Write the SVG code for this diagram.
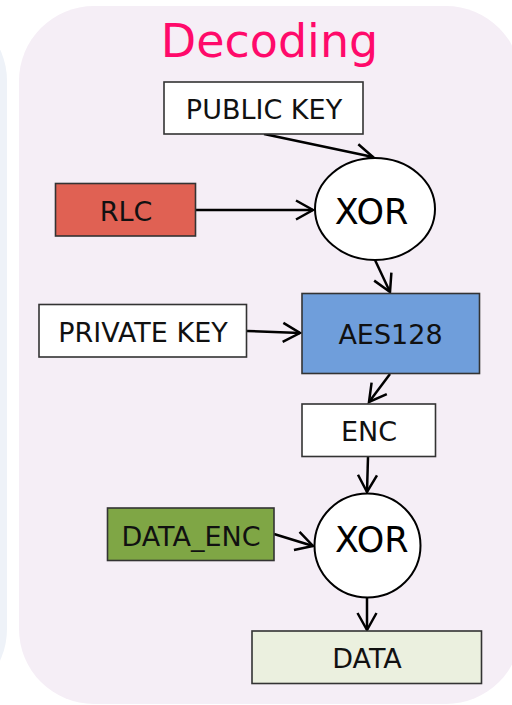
<svg xmlns="http://www.w3.org/2000/svg" width="512" height="705" viewBox="0 0 512 705">
<style>
.box{stroke:#333;stroke-width:1.6}
.lbl{font-family:"DejaVu Sans",Verdana,sans-serif;font-size:27px;fill:#111;text-anchor:middle}
.xor{font-family:"DejaVu Sans",Verdana,sans-serif;font-size:35px;fill:#000;text-anchor:middle}
.con{stroke:#000;stroke-width:2.5;fill:none}
</style>
<defs>
<marker id="arr" markerUnits="userSpaceOnUse" markerWidth="26" markerHeight="26" viewBox="-22 -13 26 26" refX="0" refY="0" orient="auto">
<path d="M-17,-9.5 L0,0 L-17,9.5" fill="none" stroke="#000" stroke-width="2.5" stroke-linejoin="miter"/>
</marker>
</defs>
<rect id="left-panel" x="-160" y="6" width="167" height="698" rx="75" ry="75" fill="#eef2f8"/>
<rect id="panel" x="19" y="6" width="502" height="698" rx="75" ry="75" fill="#f5eef6"/>
<text id="title" x="269.5" y="57" font-family="'DejaVu Sans',Verdana,sans-serif" font-size="46" fill="#ff0a6a" text-anchor="middle">Decoding</text>
<g id="connectors">
<line class="con" x1="264" y1="134" x2="373" y2="157" marker-end="url(#arr)"/>
<line class="con" x1="196" y1="210" x2="313" y2="210" marker-end="url(#arr)"/>
<line class="con" x1="375" y1="260" x2="390" y2="292" marker-end="url(#arr)"/>
<line class="con" x1="247" y1="331" x2="300" y2="333" marker-end="url(#arr)"/>
<line class="con" x1="390" y1="374" x2="369" y2="402" marker-end="url(#arr)"/>
<line class="con" x1="368" y1="457" x2="367" y2="492" marker-end="url(#arr)"/>
<line class="con" x1="274" y1="534" x2="313" y2="546" marker-end="url(#arr)"/>
<line class="con" x1="367" y1="598" x2="367" y2="630" marker-end="url(#arr)"/>
</g>
<g id="public-key"><rect class="box" x="164" y="82" width="199" height="52" fill="#fff"/><text class="lbl" x="264" y="119">PUBLIC KEY</text></g>
<g id="rlc"><rect class="box" x="55.5" y="183.5" width="140" height="52.5" fill="#e06153"/><text class="lbl" x="126" y="221">RLC</text></g>
<g id="xor1"><ellipse cx="375" cy="209" rx="60" ry="51" fill="#fff" stroke="#000" stroke-width="2"/><text class="xor" x="371.5" y="224">XOR</text></g>
<g id="private-key"><rect class="box" x="39" y="304.5" width="207.5" height="52.5" fill="#fff"/><text class="lbl" x="143" y="342">PRIVATE KEY</text></g>
<g id="aes128"><rect class="box" x="302" y="293.5" width="177.5" height="80" fill="#6f9edb"/><text class="lbl" x="390.5" y="344">AES128</text></g>
<g id="enc"><rect class="box" x="302" y="404" width="133.5" height="52.5" fill="#fff"/><text class="lbl" x="369" y="441">ENC</text></g>
<g id="data-enc"><rect class="box" x="107.5" y="508" width="166.5" height="52.5" fill="#7fa645"/><text class="lbl" x="191" y="545.5">DATA_ENC</text></g>
<g id="xor2"><ellipse cx="367.5" cy="545.5" rx="53" ry="52" fill="#fff" stroke="#000" stroke-width="2"/><text class="xor" x="371.8" y="551.5">XOR</text></g>
<g id="data"><rect class="box" x="252" y="631" width="229.5" height="52.5" fill="#ebf0df"/><text class="lbl" x="367" y="668">DATA</text></g>
</svg>
